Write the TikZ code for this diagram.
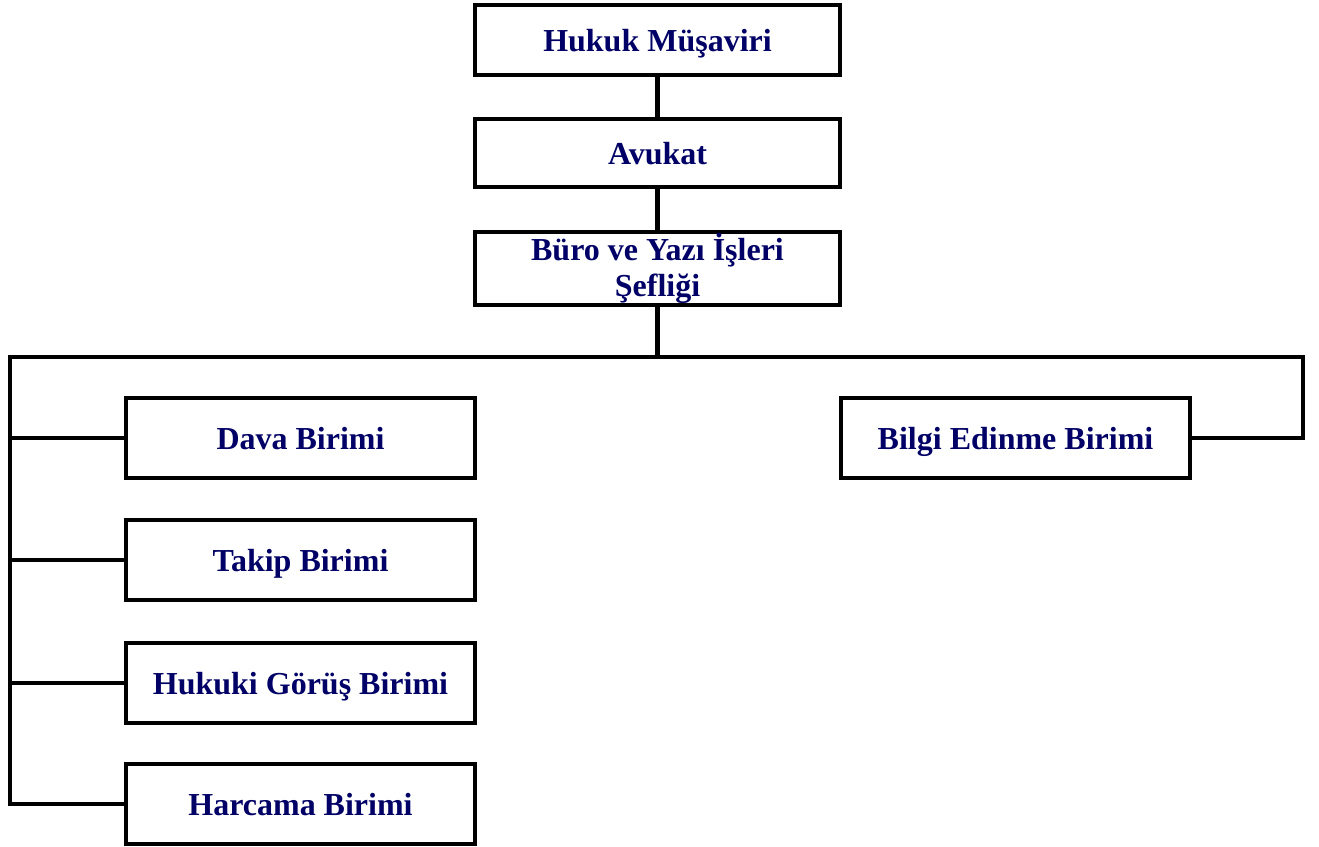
\documentclass[tikz,border=0pt]{standalone}
\usepackage{fontspec}
\setmainfont{Liberation Serif}
\definecolor{navytext}{RGB}{0,0,102}
\begin{document}
\begin{tikzpicture}[x=1pt,y=-1pt,
  unitbox/.style={draw=black,line width=4.5pt,fill=white,inner sep=0pt,
    text=navytext,font=\fontsize{32}{36}\selectfont\bfseries,align=center},
  onebox/.style={unitbox,text height=22pt,text depth=0pt},
  topbox/.style={onebox,minimum width=365pt},
  subbox/.style={onebox,minimum width=349pt,minimum height=80pt},
  conn/.style={line width=4.5pt,line join=miter}]
\useasboundingbox (0,0) rectangle (1319,846);
\node[topbox,minimum height=70pt] (hukuk) at (657.5,40) {Hukuk Müşaviri};
\node[topbox,minimum height=68pt] (avukat) at (657.5,153) {Avukat};
\node[unitbox,minimum width=365pt,minimum height=73pt] (buro) at (657.5,268.5) {\rule{0pt}{24pt}Büro ve Yazı İşleri\\Şefliği};
\node[subbox] (dava) at (300.5,438) {Dava Birimi};
\node[subbox] (takip) at (300.5,560) {Takip Birimi};
\node[subbox] (gorus) at (300.5,683) {Hukuki Görüş Birimi};
\node[subbox] (harcama) at (300.5,804) {Harcama Birimi};
\node[subbox] (bilgi) at (1015.5,438) {Bilgi Edinme Birimi};
\coordinate (busL) at (10,357);
\coordinate (busR) at (1303,357);
\coordinate (busM) at (657.5,357);
\draw[conn] (hukuk.south) -- (avukat.north);
\draw[conn] (avukat.south) -- (buro.north);
\draw[conn] (buro.south) -- (busM);
\draw[conn] (harcama.west) -| (busL) -- (busR) |- (bilgi.east);
\draw[conn] (busL |- dava.west) -- (dava.west);
\draw[conn] (busL |- takip.west) -- (takip.west);
\draw[conn] (busL |- gorus.west) -- (gorus.west);
\end{tikzpicture}
\end{document}
